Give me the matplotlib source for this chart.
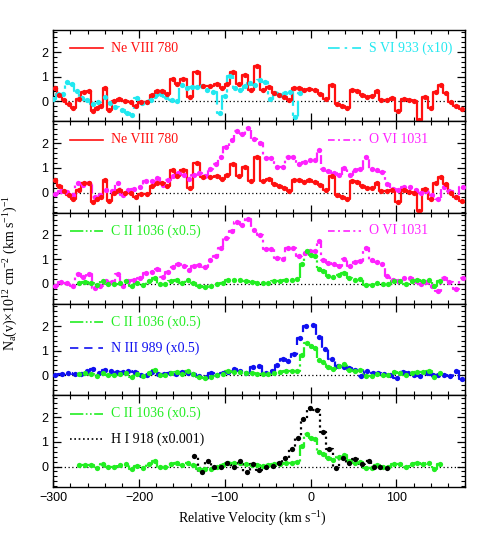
import matplotlib
matplotlib.use("Agg")
import matplotlib.pyplot as plt
from matplotlib.ticker import MultipleLocator

plt.rcParams['font.family'] = ['Liberation Sans', 'DejaVu Sans']
plt.rcParams['mathtext.default'] = 'regular'

# Ne VIII 780 (panels 1 and 2)
ne8_v = [-297.5, -292.8, -287.4, -282.0, -276.5, -270.3, -264.0, -258.6, -254.0, -249.0,
         -244.3, -239.6, -234.6, -229.0, -223.3, -217.0, -210.0, -203.8, -198.0, -191.0,
         -184.4, -178.6, -172.8, -167.0, -161.0, -155.3, -148.3, -140.5, -132.7, -125.0,
         -117.0, -109.0, -102.8, -97.0, -91.0, -84.0, -76.4, -69.4, -62.2, -55.0,
         -48.4, -42.6, -36.7, -30.9, -25.0, -19.2, -13.4, -7.6, -1.7, 4.9,
         11.5, 17.7, 24.7, 31.3, 37.0, 42.6, 48.4, 54.6, 60.4, 66.2,
         72.0, 77.2, 82.6, 89.2, 95.4, 102.0, 108.7, 115.2, 121.0, 126.5,
         133.5, 140.0, 146.0, 151.8, 157.6, 163.4, 169.3, 176.3]
ne8_y = [0.52, 0.25, 0.05, -0.10, -0.27, 0.10, 0.38, 0.40, -0.40, -0.27,
         -0.20, 0.52, -0.35, 0.00, 0.10, 0.00, -0.03, -0.20, -0.05, -0.05,
         0.25, 0.40, 0.40, 0.28, 0.90, 0.68, 0.90, 0.18, 1.20, 0.62,
         0.62, 0.68, 0.55, 0.72, 1.17, 0.68, 1.05, 0.45, 1.45, 0.46,
         0.57, 0.34, 0.27, 0.19, 0.05, 0.53, 0.53, 0.44, 0.50, 0.44,
         0.30, 0.10, 0.67, -0.10, -0.20, -0.27, 0.46, 0.42, 0.27, 0.19,
         0.20, 0.40, 0.05, 0.05, 0.12, -0.38, 0.10, 0.03, 0.00, -0.75,
         0.15, -0.27, 0.37, 0.65, 0.33, -0.03, -0.20, -0.33]

# S VI 933 (x10)
s6_v = [-300.0, -294.0, -289.0, -284.5, -278.6, -272.8, -267.0, -261.0, -253.4, -247.5,
        -239.7, -234.0, -228.0, -220.0, -213.7, -208.6, -203.0, -197.0, -191.3, -186.0,
        -181.4, -175.0, -168.6, -162.0, -156.0, -150.3, -144.5, -138.7, -133.0, -127.0,
        -121.0, -113.4, -105.6, -100.0, -94.0, -88.0, -82.3, -76.5, -70.7, -65.0,
        -59.0, -53.2, -47.3, -41.5, -35.7, -30.0, -24.0, -18.0, -12.4]
s6_y = [0.08, 0.31, 0.30, 0.80, 0.72, 0.42, 0.11, 0.04, -0.10, -0.03,
        0.18, -0.07, -0.23, -0.37, -0.50, -0.58, 0.11, -0.07, -0.03, 0.05,
        0.20, 0.29, 0.18, 0.04, 0.01, 0.66, 0.52, 0.59, 0.59, 0.62,
        0.45, 0.38, -0.50, 0.20, 1.03, 0.52, 0.45, 0.62, 0.73, 0.66,
        0.86, 0.80, 0.07, 0.34, 0.25, 0.32, 0.38, -0.64, 0.32]

# O VI 1031 (panels 2 and 3)
o6_v = [-298.0, -291.0, -284.5, -277.5, -271.0, -265.0, -258.0, -251.4, -245.6, -238.6,
        -232.0, -225.0, -218.4, -212.5, -205.5, -199.0, -192.0, -185.3, -178.7, -172.5,
        -166.0, -160.0, -154.2, -147.6, -141.8, -136.0, -130.0, -123.0, -117.3, -110.7,
        -104.5, -98.7, -92.0, -85.5, -79.6, -72.6, -65.6, -59.0, -52.0, -46.5,
        -38.8, -32.6, -26.0, -20.0, -13.2, -6.5, -0.7, 5.0, 10.0, 15.0,
        20.7, 27.3, 33.5, 39.3, 46.0, 51.8, 57.6, 64.6, 71.2, 77.0,
        83.0, 89.5, 95.7, 102.3, 109.0, 116.0, 122.5, 128.4, 134.2, 141.2,
        149.0, 155.5, 161.8, 169.5, 177.3]
o6_y = [-0.08, 0.07, 0.03, -0.10, 0.40, 0.30, 0.40, -0.18, -0.10, 0.12,
        0.07, 0.40, -0.10, 0.10, 0.14, 0.23, 0.46, 0.48, 0.60, 0.30,
        0.50, 0.68, 0.80, 0.73, 0.57, 0.73, 0.78, 0.68, 0.97, 1.15,
        1.45, 1.85, 2.14, 2.50, 2.40, 2.64, 2.20, 2.00, 1.41, 1.41,
        1.04, 1.02, 1.46, 1.46, 1.15, 1.25, 1.32, 1.32, 1.73, 0.97,
        0.87, 0.80, 0.73, 1.00, 0.73, 0.91, 0.95, 1.46, 0.97, 0.90,
        0.82, 0.33, 0.16, 0.12, 0.23, 0.23, 0.10, 0.00, 0.07, -0.10,
        -0.28, 0.23, 0.07, -0.20, 0.23]

# C II 1036 (x0.5) (panels 3, 4 and 5)
c2_v = [-269.7, -263.0, -256.5, -249.5, -242.5, -236.0, -229.0, -222.0, -215.0, -208.7,
        -202.0, -195.0, -188.4, -182.0, -176.0, -169.8, -163.0, -156.0, -150.3, -143.4,
        -136.7, -129.8, -123.0, -116.5, -109.5, -102.5, -96.0, -89.3, -82.3, -75.7,
        -68.7, -62.0, -56.0, -49.3, -42.7, -35.7, -29.0, -22.0, -15.5, -10.4,
        -4.6, 0.0, 5.0, 10.0, 15.0, 20.7, 26.5, 33.0, 39.0, 45.0,
        51.8, 57.6, 64.6, 71.2, 77.8, 84.8, 90.6, 97.2, 104.2, 111.0,
        117.8, 124.4, 131.5, 138.0, 144.3, 151.0]
c2_y = [0.05, 0.07, 0.05, -0.04, 0.10, -0.01, -0.01, 0.05, 0.10, -0.08,
        0.03, -0.04, 0.10, 0.23, -0.01, 0.00, 0.10, 0.14, 0.05, 0.16,
        0.05, -0.08, -0.11, -0.08, 0.00, 0.05, 0.16, 0.14, 0.14, 0.10,
        0.07, 0.05, 0.03, 0.05, 0.10, 0.12, 0.16, 0.16, 0.19, 0.82,
        1.32, 1.18, 1.12, 0.60, 0.53, 0.33, 0.26, 0.37, 0.46, 0.23,
        0.16, 0.20, -0.04, -0.04, 0.05, 0.00, 0.00, 0.12, 0.10, 0.00,
        0.10, 0.14, 0.12, 0.16, -0.08, 0.10]

# N III 989 (x0.5)
n3_v = [-298.0, -290.0, -282.5, -274.7, -268.0, -261.0, -254.0, -246.4, -239.7, -233.0,
        -226.0, -219.0, -212.5, -204.8, -197.8, -191.0, -184.6, -177.6, -171.0, -164.0,
        -157.0, -150.4, -143.4, -136.7, -129.8, -122.4, -116.0, -109.5, -102.5, -96.0,
        -89.0, -82.3, -75.3, -66.8, -60.0, -52.4, -45.4, -38.8, -32.0, -26.0,
        -19.0, -12.4, -5.4, 2.4, 10.2, 16.8, 24.5, 32.3, 39.0, 45.0,
        51.8, 58.4, 65.4, 72.4, 79.0, 85.6, 92.6, 100.4, 107.4, 114.0,
        120.6, 127.6, 135.3, 142.3, 149.0, 155.5, 162.5, 169.5, 176.0]
n3_y = [0.00, 0.03, 0.10, 0.03, 0.05, 0.16, 0.27, 0.07, 0.23, 0.16,
        0.12, 0.14, 0.16, 0.12, 0.00, 0.00, 0.14, 0.05, 0.03, 0.07,
        0.03, 0.12, 0.10, 0.03, -0.04, -0.08, 0.07, 0.00, 0.10, 0.12,
        0.27, 0.19, 0.10, 0.33, 0.37, 0.10, 0.16, 0.41, 0.64, 0.58,
        0.85, 1.50, 2.00, 2.05, 1.55, 1.05, 0.68, 0.37, 0.33, 0.30,
        0.23, -0.04, 0.19, 0.10, 0.07, 0.03, 0.00, -0.10, 0.14, 0.07,
        0.00, -0.04, 0.10, 0.00, 0.00, 0.00, -0.04, 0.19, -0.14]

# H I 918 (x0.001)
h1_v = [-135.5, -126.9, -119.1, -112.1, -104.7, -97.0, -89.2, -82.2, -74.4, -66.7,
        -59.7, -51.9, -44.1, -36.4, -29.4, -21.6, -15.0, -8.4, -0.6, 7.2,
        14.9, 21.9, 29.7, 37.5, 45.2, 52.2, 60.0, 67.8, 74.0, 81.0, 88.7]
h1_y = [0.44, -0.22, 0.22, -0.01, 0.00, 0.14, -0.01, 0.22, -0.22, 0.10,
        -0.16, 0.00, 0.03, 0.14, 0.33, 0.70, 1.18, 1.93, 2.38, 2.30,
        1.40, 0.70, -0.05, 0.35, 0.16, 0.30, 0.10, 0.22, 0.00, 0.00, -0.04]

red = '#ff1010'
cyan = '#22e8f0'
magenta = '#ff22ff'
green = '#22ee22'
blue = '#1010f0'

ls_ne8 = '-'
ls_s6 = (0, (7, 3, 1.5, 3))
ls_o6 = (0, (4, 2, 1.2, 2))
ls_c2 = (0, (8, 1.5, 1, 1.5, 1, 1.5))
ls_n3 = (0, (5, 3.5))
ls_h1 = (0, (1, 1.6))

panels = [
    [(s6_v, s6_y, cyan, ls_s6, 'S VI 933 (x10)', 'right'),
     (ne8_v, ne8_y, red, ls_ne8, 'Ne VIII 780', 'left')],
    [(o6_v, o6_y, magenta, ls_o6, 'O VI 1031', 'right'),
     (ne8_v, ne8_y, red, ls_ne8, 'Ne VIII 780', 'left')],
    [(o6_v, o6_y, magenta, ls_o6, 'O VI 1031', 'right'),
     (c2_v, c2_y, green, ls_c2, 'C II 1036 (x0.5)', 'left')],
    [(n3_v, n3_y, blue, ls_n3, 'N III 989 (x0.5)', 'left2'),
     (c2_v, c2_y, green, ls_c2, 'C II 1036 (x0.5)', 'left')],
    [(c2_v, c2_y, green, ls_c2, 'C II 1036 (x0.5)', 'left'),
     (h1_v, h1_y, 'black', ls_h1, 'H I 918 (x0.001)', 'left2')],
]

label_pos = {'left': (0.041, 0.80), 'left2': (0.041, 0.52), 'right': (0.667, 0.80)}
label_font = dict(family=['Liberation Serif', 'DejaVu Serif'], fontsize=10)

fig, axes = plt.subplots(5, 1, figsize=(4.91, 5.45), dpi=100, sharex=True,
                         gridspec_kw={'hspace': 0})
fig.subplots_adjust(left=0.1086, right=0.947, top=0.945, bottom=0.107)

for ax, series in zip(axes, panels):
    ax.axhline(0, color='black', linestyle=(0, (1, 2)), linewidth=0.9, zorder=1)
    for v, y, col, ls, label, where in series:
        ax.step(v, y, where='mid', color=col, linestyle=ls, linewidth=1.6, zorder=2)
        ax.plot(v, y, 'o', color=col, markersize=3.8, markeredgewidth=0, zorder=3)

        lx, ly = label_pos[where]
        ax.plot([lx, lx + 0.08], [ly, ly], color=col, linestyle=ls, linewidth=1.2,
                transform=ax.transAxes)
        ax.text(lx + 0.1, ly, label, color=col, va='center', ha='left',
                transform=ax.transAxes, **label_font)

    ax.set_xlim(-300, 180)
    ax.set_ylim(-0.82, 2.9)
    ax.xaxis.set_major_locator(MultipleLocator(100))
    ax.xaxis.set_minor_locator(MultipleLocator(20))
    ax.yaxis.set_major_locator(MultipleLocator(1))
    ax.yaxis.set_minor_locator(MultipleLocator(0.2))
    ax.tick_params(which='both', direction='in', top=True, right=True, labelsize=9)
    ax.tick_params(which='major', length=6, width=0.9)
    ax.tick_params(which='minor', length=3, width=0.8)
    for spine in ax.spines.values():
        spine.set_linewidth(1.0)

fig.text(0.515, 0.048, 'Relative Velocity (km s$^{-1}$)', ha='center', va='center',
         **label_font)
fig.text(0.022, 0.5, 'N$_a$(v)\u00d710$^{12}$ cm$^{-2}$ (km s$^{-1}$)$^{-1}$',
         rotation=90, ha='center', va='center', **label_font)

fig.savefig('out.png', dpi=100)
